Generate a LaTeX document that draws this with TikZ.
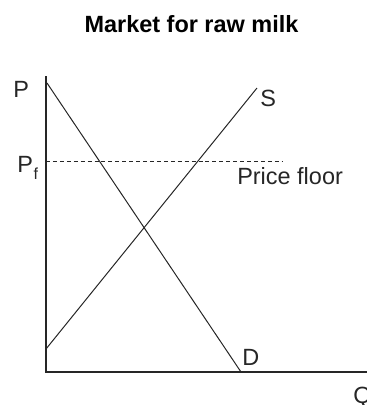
\documentclass[tikz,border=0pt]{standalone}
\usepackage{fontspec}
\setmainfont{Liberation Sans}

\begin{document}
\begin{tikzpicture}[x=0.75pt, y=-0.75pt, font=\fontsize{17.6}{21}\selectfont]
\tikzset{axis/.style={line width=1.1pt, black!85},
  curve/.style={line width=0.75pt, black!85},
  lab/.style={anchor=base west, inner sep=0pt, text=black!85}}
\useasboundingbox (0,0) rectangle (367,405);
% title
\node[anchor=base, inner sep=0pt, font=\fontsize{17.6}{21}\selectfont\bfseries] (title) at (191.5,32) {Market for raw milk};
% axes
\coordinate (O) at (46,372);
\coordinate (Ptop) at (46,76);
\coordinate (Qend) at (367,372);
\draw[axis] (Ptop) -- (O) -- (Qend);
\node[lab] (P) at (13,97) {P};
\node[lab] (Q) at (353,403) {Q};
% price floor
\coordinate (PFa) at (46,161);
\coordinate (PFb) at (283,161);
\draw[curve, dashed, dash pattern=on 3pt off 2.2pt] (PFa) -- (PFb);
\node[lab] (Pf) at (17,172) {P\kern0.5pt\raisebox{-5.3pt}{\fontsize{12}{14}\selectfont f}};
\node[lab] (floor) at (237,184) {Price floor};
% demand
\coordinate (Da) at (47,83);
\coordinate (Db) at (241,372);
\draw[curve] (Da) -- (Db);
\node[lab] (D) at (242,365) {D};
% supply
\coordinate (Sa) at (46,349);
\coordinate (Sb) at (257,88);
\draw[curve] (Sa) -- (Sb);
\node[lab] (S) at (260,106) {S};
\end{tikzpicture}
\end{document}
